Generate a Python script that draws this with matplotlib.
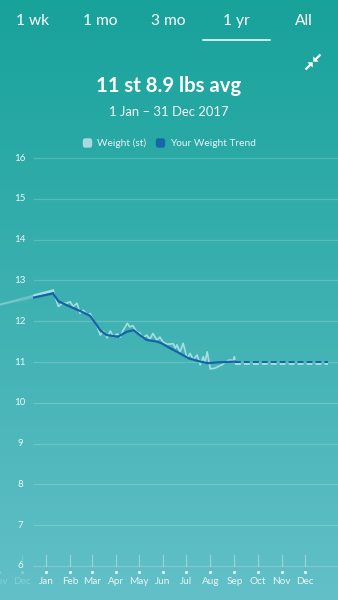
import numpy as np
import matplotlib
matplotlib.use("Agg")
import matplotlib.pyplot as plt
from matplotlib import transforms
from matplotlib.patches import Rectangle, FancyBboxPatch, Polygon

plt.rcParams['font.family'] = ['Lato', 'DejaVu Sans']

# ---- data -----------------------------------------------------------------
# day of year (0 = 1 Jan 2017); negative days belong to the previous year
prev_days = [-70, 9]
prev_weight = [12.36, 12.75]
prev_trend = [12.36, 12.68]

weight_days = [9, 16, 21, 27, 31, 35, 40, 44, 48, 50, 54, 57, 61, 66, 70, 74,
               79, 83, 87, 92, 96, 99, 105, 108, 112, 117, 121, 125, 130, 134,
               138, 143, 147, 151, 156, 160, 164, 167, 169, 173, 177, 182, 186,
               190, 195, 199, 203, 205, 208, 212, 218, 227, 235, 239, 241, 243,
               244]
weight_st = [12.75, 12.36, 12.44, 12.44, 12.48, 12.36, 12.44, 12.19, 12.27,
             12.23, 12.15, 12.19, 12.03, 11.87, 11.66, 11.76, 11.59, 11.76,
             11.62, 11.69, 11.61, 11.76, 11.95, 11.86, 11.89, 11.74, 11.71,
             11.59, 11.66, 11.56, 11.70, 11.54, 11.61, 11.49, 11.44, 11.44,
             11.45, 11.34, 11.42, 11.25, 11.46, 11.09, 11.21, 11.05, 11.17,
             10.93, 11.13, 10.97, 11.25, 10.83, 10.85, 10.93, 11.04, 11.05,
             11.01, 11.13, 11.01]

trend_days = [9, 16, 27, 44, 57, 70, 78, 93, 104, 113, 121, 130, 143, 149,
              160, 169, 184, 199, 209, 220, 244]
trend_st = [12.68, 12.49, 12.39, 12.25, 12.13, 11.78, 11.66, 11.62, 11.74,
            11.78, 11.66, 11.54, 11.50, 11.46, 11.34, 11.25, 11.09, 11.01,
            10.97, 10.99, 11.01]

# projected values to the end of the year
proj_days = [244, 364]
proj_trend = [11.01, 11.01]
proj_weight = [10.94, 10.94]

y_ticks = [6, 7, 8, 9, 10, 11, 12, 13, 14, 15, 16]
month_days = [-61, -31, 0, 31, 59, 90, 120, 151, 181, 212, 243, 273, 304, 334]
month_labels = ['Nov', 'Dec', 'Jan', 'Feb', 'Mar', 'Apr', 'May', 'Jun', 'Jul',
                'Aug', 'Sep', 'Oct', 'Nov', 'Dec']
tabs = ['1 wk', '1 mo', '3 mo', '1 yr', 'All']

title = '11 st 8.9 lbs avg'
subtitle = '1 Jan \u2013 31 Dec 2017'

# ---- styling --------------------------------------------------------------
W, H = 338, 600
light = '#a6dde0'
dark = '#1564a6'
white = '#ffffff'


def fx(px):
    return px / W


def fy(py):
    return 1 - py / H


fig = plt.figure(figsize=(W / 100, H / 100), dpi=100)

# background gradient
bg = fig.add_axes([0, 0, 1, 1], zorder=0)
top = np.array([23, 162, 154]) / 255
bot = np.array([99, 192, 200]) / 255
t = np.linspace(0, 1, 256)[:, None]
grad = top[None, :] * (1 - t) + bot[None, :] * t
bg.imshow(grad[:, None, :], aspect='auto', extent=[0, 1, 0, 1])
bg.set_axis_off()

# chart axes spanning the whole figure
ax = fig.add_axes([0, 0, 1, 1], zorder=1)
ax.patch.set_alpha(0)
px_per_day = 0.775
px_per_st = 40.8
x0 = -46 / px_per_day
ax.set_xlim(x0, x0 + W / px_per_day)
ax.set_ylim(6 - 34 / px_per_st, 16 + 158 / px_per_st)
ax.set_axis_off()

grid_start = x0 + 33 / px_per_day
xmax = ax.get_xlim()[1]

# horizontal grid and y labels
lab_tr = transforms.blended_transform_factory(fig.transFigure, ax.transData)
for v in y_ticks:
    ax.plot([grid_start, xmax], [v, v], color=white, alpha=0.18, lw=0.9,
            solid_capstyle='butt')
    ax.text(fx(20), v, str(v), transform=lab_tr, ha='center', va='center',
            color=white, fontsize=7, alpha=0.9)

# month ticks, dots and labels
tick_top = 6 + 11 / px_per_st
dot_y = 6 - 6 / px_per_st
lab_y = 6 - 16 / px_per_st
for d, m in zip(month_days, month_labels):
    a = 0.28 if d < 0 else 1.0
    ax.plot([d, d], [6, tick_top], color=white, alpha=0.3 * a + 0.05, lw=0.9)
    ax.plot([d], [dot_y], 'o', color=white, ms=2.2, alpha=0.9 * a, mew=0)
    ax.text(d, lab_y, m, ha='center', va='center', color=white,
            fontsize=7.2, alpha=0.85 * a)

# clip region for the current year's plotting area
clip = Rectangle((grid_start, 0), 1000, 50, transform=ax.transData)

# faded previous-year segment
ax.plot(prev_days, prev_weight, color=light, lw=1.3, alpha=0.45, zorder=3)
ax.plot(prev_days, prev_trend, color=light, lw=1.3, alpha=0.3, zorder=3)
l1, = ax.plot(prev_days, prev_weight, color=light, lw=1.8, zorder=4)
l1.set_clip_path(clip)
l2, = ax.plot(prev_days, prev_trend, color=dark, lw=1.6, zorder=5)
l2.set_clip_path(clip)

# weight readings and trend
ax.plot(weight_days, weight_st, color=light, lw=1.2, zorder=4,
        solid_joinstyle='round')
ax.plot(trend_days, trend_st, color=dark, lw=1.6, zorder=5,
        solid_joinstyle='round')

# projection
ax.plot(proj_days, proj_trend, color=dark, lw=1.4, ls=(0, (3, 1.6)), zorder=5)
ax.plot(proj_days, proj_weight, color=light, lw=1.4, ls=(0, (3, 1.6)), zorder=4)

# ---- header ---------------------------------------------------------------
tab_x = [33, 100, 168, 236, 304]
for x, s in zip(tab_x, tabs):
    fig.text(fx(x), fy(21), s, ha='center', va='center', color=white,
             fontsize=11.2, zorder=3)
fig.add_artist(plt.Line2D([fx(203), fx(270)], [fy(40), fy(40)], color=white,
                          lw=1.1, zorder=3))

fig.text(fx(169), fy(86), title, ha='center', va='center', color=white,
         fontsize=14.6, fontweight='bold', zorder=3)
fig.text(fx(169), fy(112), subtitle, ha='center', va='center', color=white,
         fontsize=9.4, alpha=0.95, zorder=3)

# compress icon: two arrows pointing inward
icon_arrows = [
    ((320.5, 54.5), (315.5, 59.5), [(313.3, 61.7), (313.3, 56.4), (318.6, 61.7)]),
    ((305.5, 69.5), (310.5, 64.5), [(312.7, 62.3), (312.7, 67.6), (307.4, 62.3)]),
]
for (sx, sy), (ex, ey), head in icon_arrows:
    fig.add_artist(plt.Line2D([fx(sx), fx(ex)], [fy(sy), fy(ey)], color=white,
                              lw=1.6, solid_capstyle='butt', zorder=3))
    fig.add_artist(Polygon([(fx(px), fy(py)) for px, py in head], closed=True,
                           transform=fig.transFigure, color=white, lw=0,
                           zorder=3))

# legend
for x, c in [(87.5, '#a9d9dc'), (160.5, '#1468a8')]:
    fig.add_artist(FancyBboxPatch((fx(x - 4), fy(147)), fx(8), 8 / H,
                                  boxstyle='round,pad=0,rounding_size=0.004',
                                  transform=fig.transFigure, color=c,
                                  zorder=3))
fig.text(fx(97), fy(143), 'Weight (st)', ha='left', va='center',
         color='#e6f4f4', fontsize=7.3, zorder=3)
fig.text(fx(170), fy(143), 'Your Weight Trend', ha='left', va='center',
         color='#e6f4f4', fontsize=7.3, zorder=3)

fig.savefig('out.png', dpi=100)
